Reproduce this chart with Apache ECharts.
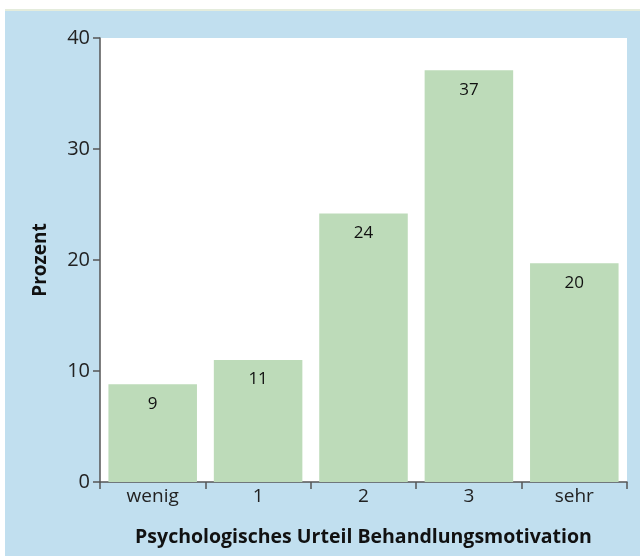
<!DOCTYPE html>
<html>
<head>
<meta charset="utf-8">
<script src="https://cdn.jsdelivr.net/npm/echarts@6/dist/echarts.min.js"></script>
<style>
  html, body { margin: 0; padding: 0; background: #fff; }
  #chart { width: 640px; height: 556px; }
</style>
</head>
<body>
<div id="chart"></div>
<script>
// Kategorien und Werte (Prozent)
var categories = ["wenig", "1", "2", "3", "sehr"];
var values = [8.8, 11.0, 24.2, 37.1, 19.7];
var labels = ["9", "11", "24", "37", "20"];
var yTicks = [0, 10, 20, 30, 40];

var fontFamily = "'Open Sans', 'Noto Sans', sans-serif";

var chart = echarts.init(document.getElementById("chart"));
chart.setOption({
  backgroundColor: "#ffffff",
  animation: false,
  graphic: [
    { type: "rect", z: -10, shape: { x: 5, y: 9, width: 635, height: 2 }, style: { fill: "#e4ecdc" } },
    { type: "rect", z: -10, shape: { x: 5, y: 11, width: 635, height: 545 }, style: { fill: "#c1dfef" } }
  ],
  grid: {
    left: 100,
    right: 13,
    top: 38,
    bottom: 74,
    show: true,
    backgroundColor: "#ffffff",
    borderWidth: 0,
    containLabel: false,
    outerBoundsMode: "none"
  },
  xAxis: {
    type: "category",
    data: categories,
    name: "Psychologisches Urteil Behandlungsmotivation",
    nameLocation: "middle",
    nameGap: 45,
    nameTextStyle: { fontFamily: fontFamily, fontWeight: "bold", fontSize: 19.5, color: "#111" },
    axisLine: { lineStyle: { color: "#555", width: 1.5 } },
    axisTick: { show: true, length: 7, alignWithLabel: false, lineStyle: { color: "#555", width: 1.5 } },
    axisLabel: { fontFamily: fontFamily, fontSize: 19, color: "#222", margin: 5 }
  },
  yAxis: {
    type: "value",
    min: 0,
    max: 40,
    interval: 10,
    name: "Prozent",
    nameLocation: "middle",
    nameGap: 50,
    nameTextStyle: { fontFamily: fontFamily, fontWeight: "bold", fontSize: 19, color: "#111" },
    axisLine: { show: true, lineStyle: { color: "#555", width: 1.5 } },
    axisTick: { show: true, length: 7, lineStyle: { color: "#555", width: 1.5 } },
    splitLine: { show: false },
    axisLabel: {
      fontFamily: fontFamily, fontSize: 20, color: "#222", margin: 10,
      formatter: function (v) { return yTicks.indexOf(v) >= 0 ? String(v) : ""; }
    }
  },
  series: [{
    type: "bar",
    data: values,
    barCategoryGap: "16%",
    itemStyle: { color: "#bddbb9" },
    label: {
      show: true,
      position: "insideTop",
      distance: 11,
      fontFamily: fontFamily,
      fontSize: 17,
      color: "#111",
      formatter: function (p) { return labels[p.dataIndex]; }
    }
  }]
});
</script>
</body>
</html>
